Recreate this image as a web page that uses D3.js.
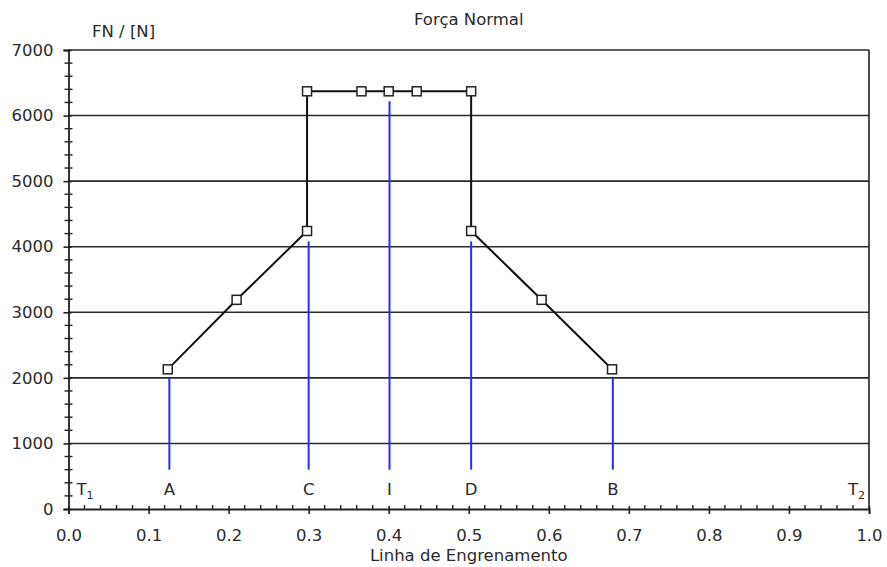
<!DOCTYPE html>
<html>
<head>
<meta charset="utf-8">
<script src="https://cdn.jsdelivr.net/npm/d3@7"></script>
<style>
  body { margin: 0; background: #fff; }
  text { font-family: "DejaVu Sans", Verdana, sans-serif; fill: #2a2a2a; }
</style>
</head>
<body>
<svg id="chart" width="887" height="567"></svg>
<script>
// normal force along the line of action
var forceX = [0.124, 0.210, 0.298, 0.298, 0.366, 0.400, 0.435, 0.503, 0.503, 0.591, 0.679];
var forceY = [2130, 3190, 4240, 6370, 6370, 6370, 6370, 6370, 4240, 3190, 2130];
// points that carry a marker (index into arrays above)
var markerIdx = [0, 1, 2, 3, 4, 5, 6, 7, 8, 9, 10];

// blue reference lines A C I D B
var refNames = ['A', 'C', 'I', 'D', 'B'];
var refX = [0.126, 0.300, 0.401, 0.503, 0.680];
var refTop = [2000, 4080, 6220, 4080, 2000];
var refBottom = 600;

var xTicks = [0, 0.1, 0.2, 0.3, 0.4, 0.5, 0.6, 0.7, 0.8, 0.9, 1.0];
var yTicks = [0, 1000, 2000, 3000, 4000, 5000, 6000, 7000];

var fs = '16.5px';

var svg = d3.select('#chart');
var x = d3.scaleLinear().domain([0, 1]).range([68.5, 869]);
var y = d3.scaleLinear().domain([0, 7000]).range([509, 50]);

var g = svg.append('g');

// horizontal grid lines
g.selectAll('line.grid')
  .data(yTicks.slice(1))
  .enter()
  .append('line')
  .attr('x1', x(0))
  .attr('x2', x(1))
  .attr('y1', function(d) { return y(d); })
  .attr('y2', function(d) { return y(d); })
  .attr('stroke', '#2a2a2a')
  .attr('stroke-width', 1.6);

// right border
g.append('line')
  .attr('x1', x(1)).attr('x2', x(1))
  .attr('y1', y(0)).attr('y2', y(7000))
  .attr('stroke', '#222').attr('stroke-width', 1.6);

// axes
var xAxis = d3.axisBottom(x).tickValues(xTicks).tickFormat(d3.format('.1f')).tickSize(5).tickPadding(15);
var yAxis = d3.axisLeft(y).tickValues(yTicks).tickFormat(d3.format('d')).tickSize(5).tickPadding(10);

var gx = svg.append('g').attr('transform', 'translate(0,' + y(0) + ')').call(xAxis);
var gy = svg.append('g').attr('transform', 'translate(' + x(0) + ',0)').call(yAxis);

[gx, gy].forEach(function(ax) {
  ax.select('.domain').attr('stroke', '#222').attr('stroke-width', 1.8);
  ax.selectAll('.tick line').attr('stroke', '#222').attr('stroke-width', 1.6);
  ax.selectAll('.tick text').style('font-size', fs).attr('fill', '#333');
});
// major ticks cross the axis a little
gx.selectAll('.tick line').attr('y1', -3);
gy.selectAll('.tick line').attr('x1', 3);

// minor ticks
var xMinor = d3.range(0, 50).map(function(i) { return i * 0.02; }).filter(function(v, i) { return i % 5 !== 0; });
var yMinor = d3.range(0, 35).map(function(i) { return i * 200; }).filter(function(v, i) { return i % 5 !== 0; });

svg.append('g').selectAll('line')
  .data(xMinor)
  .enter()
  .append('line')
  .attr('x1', function(d) { return x(d); })
  .attr('x2', function(d) { return x(d); })
  .attr('y1', y(0) - 4)
  .attr('y2', y(0))
  .attr('stroke', '#222')
  .attr('stroke-width', 1.4);

svg.append('g').selectAll('line')
  .data(yMinor)
  .enter()
  .append('line')
  .attr('x1', x(0) - 4)
  .attr('x2', x(0) + 4)
  .attr('y1', function(d) { return y(d); })
  .attr('y2', function(d) { return y(d); })
  .attr('stroke', '#222')
  .attr('stroke-width', 1.4);

// blue reference lines
svg.append('g').selectAll('line')
  .data(refX)
  .enter()
  .append('line')
  .attr('x1', function(d) { return x(d); })
  .attr('x2', function(d) { return x(d); })
  .attr('y1', y(refBottom))
  .attr('y2', function(d, i) { return y(refTop[i]); })
  .attr('stroke', '#2a2aff')
  .attr('stroke-width', 2);

svg.append('g').selectAll('text')
  .data(refNames)
  .enter()
  .append('text')
  .attr('x', function(d, i) { return x(refX[i]); })
  .attr('y', 495)
  .attr('text-anchor', 'middle')
  .style('font-size', fs)
  .text(function(d) { return d; });

// T1 / T2
var t1 = svg.append('text').attr('x', x(0) + 8).attr('y', 495).style('font-size', fs);
t1.append('tspan').text('T');
t1.append('tspan').attr('dy', 4).style('font-size', '11px').text('1');
var t2 = svg.append('text').attr('x', x(1) - 4).attr('y', 495).attr('text-anchor', 'end').style('font-size', fs);
t2.append('tspan').text('T');
t2.append('tspan').attr('dy', 4).style('font-size', '11px').text('2');

// force line
var pts = forceX.map(function(v, i) { return [v, forceY[i]]; });
var line = d3.line()
  .x(function(d) { return x(d[0]); })
  .y(function(d) { return y(d[1]); });

svg.append('path')
  .datum(pts)
  .attr('d', line)
  .attr('fill', 'none')
  .attr('stroke', '#111')
  .attr('stroke-width', 2);

svg.append('g').selectAll('rect')
  .data(markerIdx)
  .enter()
  .append('rect')
  .attr('x', function(i) { return x(forceX[i]) - 4.5; })
  .attr('y', function(i) { return y(forceY[i]) - 4.5; })
  .attr('width', 9)
  .attr('height', 9)
  .attr('fill', '#fff')
  .attr('stroke', '#222')
  .attr('stroke-width', 1.5);

// titles
svg.append('text')
  .attr('x', (x(0) + x(1)) / 2)
  .attr('y', 25)
  .attr('text-anchor', 'middle')
  .style('font-size', fs)
  .text('Força Normal');

svg.append('text')
  .attr('x', 92)
  .attr('y', 37)
  .style('font-size', fs)
  .text('FN / [N]');

svg.append('text')
  .attr('x', (x(0) + x(1)) / 2)
  .attr('y', 561)
  .attr('text-anchor', 'middle')
  .style('font-size', fs)
  .text('Linha de Engrenamento');
</script>
</body>
</html>
